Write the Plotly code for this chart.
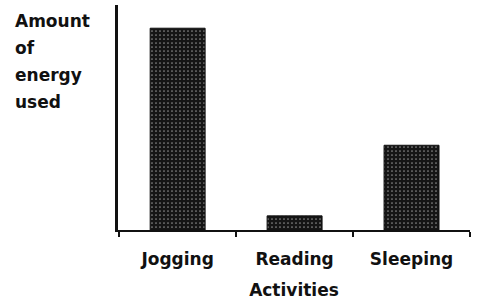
import plotly.graph_objects as go

activities = ["Jogging", "Reading", "Sleeping"]
energy_used = [10.0, 0.7, 4.2]
y_label_lines = ["Amount", "of", "energy", "used"]
x_title = "Activities"

W, H = 478, 300
L, R, T, B = 118, 8, 5, 70
pw = W - L - R
ph = H - T - B

fig = go.Figure()
fig.add_trace(go.Bar(
    x=activities,
    y=energy_used,
    width=0.47,
    marker=dict(
        color="#151515",
        line=dict(color="#111111", width=1),
        pattern=dict(shape=".", fgcolor="#ffffff", bgcolor="#151515", size=4, solidity=0.15),
    ),
    hoverinfo="skip",
))

font_family = "DejaVu Sans, Liberation Sans, Arial, sans-serif"

fig.update_layout(
    width=W, height=H,
    margin=dict(l=L, r=R, t=T, b=B),
    paper_bgcolor="white",
    plot_bgcolor="white",
    showlegend=False,
    font=dict(family=font_family, color="#111111"),
    xaxis=dict(
        type="category",
        range=[-0.51, 2.5],
        automargin=False,
        showline=True, linecolor="#111111", linewidth=2,
        showgrid=False, zeroline=False,
        ticks="outside", tickson="boundaries", ticklen=5, tickwidth=2, tickcolor="#111111",
        tickvals=activities,
        ticktext=["<b>%s</b>" % a for a in activities],
        tickfont=dict(size=17, family=font_family, color="#111111"),
        ticklabelstandoff=13,
        title=dict(text="<b>%s</b>" % x_title, font=dict(size=17, family=font_family, color="#111111"), standoff=22),
    ),
    yaxis=dict(
        range=[0, 11.15],
        automargin=False,
        showline=True, linecolor="#111111", linewidth=3,
        showgrid=False, zeroline=False,
        showticklabels=False, ticks="",
    ),
)

for i, line in enumerate(y_label_lines):
    fig.add_annotation(
        text="<b>%s</b>" % line,
        xref="paper", yref="paper",
        x=(13 - L) / pw, y=1 - (21 + i * 27 - T) / ph,
        xanchor="left", yanchor="middle",
        showarrow=False,
        font=dict(size=17, family=font_family, color="#111111"),
    )

fig.write_html("out.html", config={"displayModeBar": False},
               post_script="document.body.style.margin='0';")
